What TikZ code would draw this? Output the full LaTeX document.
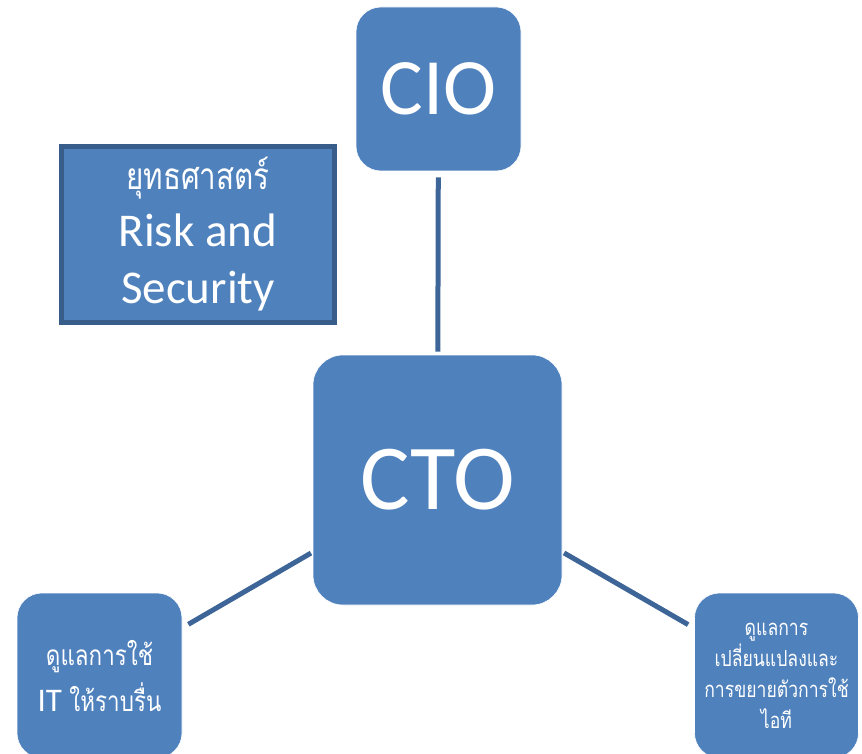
\documentclass[tikz,border=0pt]{standalone}
\usepackage{fontspec}
\setmainfont{Carlito}
\newfontfamily\thaifont[Script=Thai,FakeStretch=0.8]{Loma}
\usetikzlibrary{positioning}

\begin{document}
\begin{tikzpicture}[x=1pt,y=-1pt,
	box/.style={fill=mycolor,draw=white,line width=0.6pt,text=white,align=center,inner sep=0pt},
	link/.style={draw=mycolor2,line width=5pt}]
	\definecolor{mycolor}{RGB}{79,129,189}
	\definecolor{mycolor2}{RGB}{62,101,152}
	\definecolor{mycolor3}{RGB}{56,93,138}
	\useasboundingbox (0,0) rectangle (862,754);
	\clip (0,0) rectangle (862,754);
	\node[box,rounded corners=25pt,minimum width=165pt,minimum height=164pt,font=\fontsize{80}{96}\selectfont] (cio) at (438.5,89) {CIO};
	\node[box,rounded corners=30pt,minimum width=249pt,minimum height=250pt,font=\fontsize{93}{110}\selectfont] (cto) at (437.5,480) {CTO};
	\node[box,draw=mycolor3,line width=4.5pt,minimum width=273pt,minimum height=176pt,font=\fontsize{47}{57}\selectfont] (risk) at (198,234.5) {{\thaifont\fontsize{37}{44}\selectfont ยุทธศาสตร์}\\Risk and\\Security};
	\node[box,rounded corners=25pt,minimum width=165pt,minimum height=165pt,font=\fontsize{33}{46}\selectfont] (itbox) at (99.5,675.5) {{\thaifont\fontsize{28}{46}\selectfont ดูแลการใช้}\\IT {\thaifont\fontsize{28}{46}\selectfont ให้ราบรื่น}};
	\node[box,rounded corners=25pt,minimum width=164pt,minimum height=165pt,font=\thaifont\fontsize{22}{31}\selectfont] (growth) at (776.5,675.5) {ดูแลการ\\เปลี่ยนแปลงและ\\การขยายตัวการใช้\\ไอที};
	\draw[link,shorten <=6pt,shorten >=3pt] (cio) -- (cto);
	\draw[link,shorten <=2pt,shorten >=7pt] (cto) -- (itbox);
	\draw[link,shorten <=2pt,shorten >=7pt] (cto) -- (growth);
\end{tikzpicture}
\end{document}
